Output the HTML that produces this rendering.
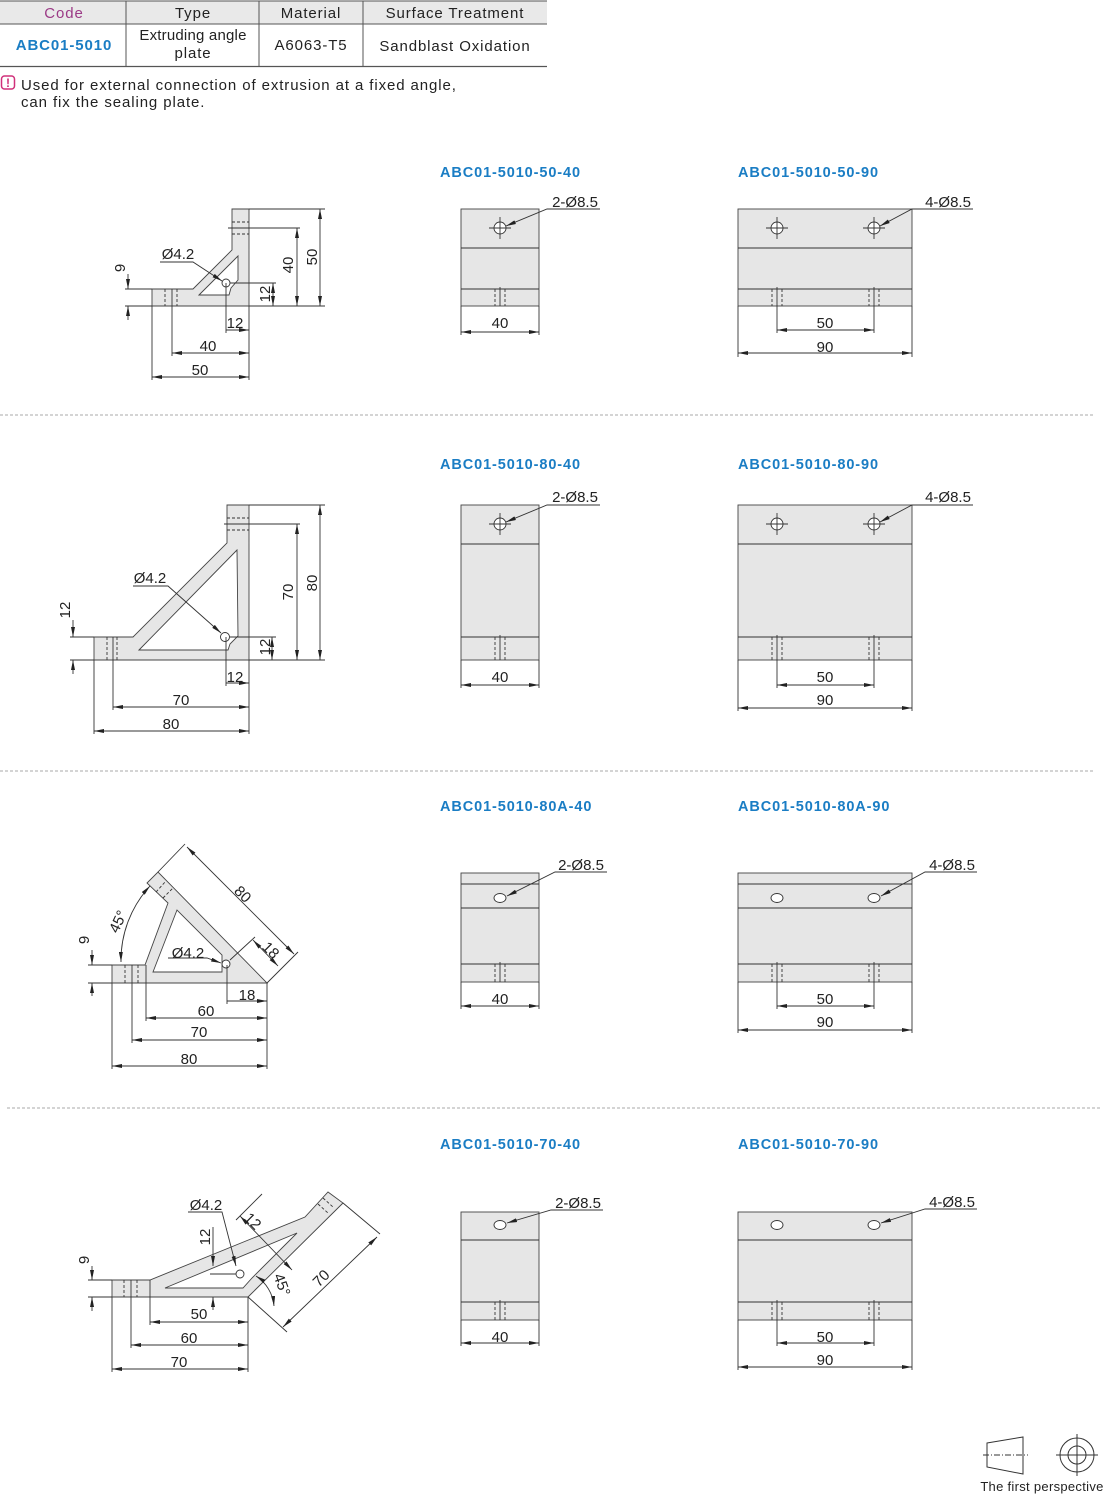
<!DOCTYPE html>
<html><head><meta charset="utf-8"><style>
body{margin:0;background:#fff;width:1110px;height:1497px;overflow:hidden;font-family:"Liberation Sans",sans-serif;}
svg{position:absolute;left:0;top:0}
</style></head><body>
<svg width="1110" height="1497" viewBox="0 0 1110 1497" xmlns="http://www.w3.org/2000/svg" font-family="Liberation Sans, sans-serif">
<defs>
<marker id="a" viewBox="0 0 10 4" refX="10" refY="2" markerWidth="10" markerHeight="4" markerUnits="userSpaceOnUse" orient="auto-start-reverse"><path d="M0,0L10,2L0,4z" fill="#222"/></marker>
</defs>
<!-- table -->
<rect x="0" y="1" width="547" height="23" fill="#e9e9e9"/>
<g stroke="#555" stroke-width="1">
<line x1="0" y1="1" x2="547" y2="1"/><line x1="0" y1="24" x2="547" y2="24"/><line x1="0" y1="66.5" x2="547" y2="66.5" stroke-width="1.3"/>
<line x1="126" y1="1" x2="126" y2="66"/><line x1="259" y1="1" x2="259" y2="66"/><line x1="363" y1="1" x2="363" y2="66"/>
</g>
<g font-size="15" fill="#222" text-anchor="middle" letter-spacing="0.9">
<text x="64" y="18" fill="#9b3a86">Code</text><text x="193" y="18">Type</text><text x="311" y="18">Material</text><text x="455" y="18">Surface Treatment</text>
<text x="64" y="50" fill="#1a7dc4" font-weight="bold">ABC01-5010</text>
<text x="193" y="40" letter-spacing="0.2">Extruding angle</text><text x="193" y="58">plate</text>
<text x="311" y="50">A6063-T5</text><text x="455" y="51">Sandblast Oxidation</text>
</g>
<rect x="1.5" y="76" width="13" height="13" rx="3" fill="none" stroke="#d0317a" stroke-width="1.5"/>
<text x="8" y="87" font-size="12" font-weight="bold" fill="#d0317a" text-anchor="middle">!</text>
<text x="21" y="90" font-size="15" fill="#222" letter-spacing="0.9">Used for external connection of extrusion at a fixed angle,</text>
<text x="21" y="107" font-size="15" fill="#222" letter-spacing="0.9">can fix the sealing plate.</text>

<!-- separators -->
<g stroke="#aaa" stroke-dasharray="3,2" stroke-width="1">
<line x1="0" y1="415" x2="1093" y2="415"/><line x1="0" y1="771" x2="1093" y2="771"/><line x1="7" y1="1108" x2="1100" y2="1108"/>
</g>

<!-- titles -->
<g font-size="14.5" font-weight="bold" fill="#1a7dc4" letter-spacing="0.9">
<text x="440" y="177">ABC01-5010-50-40</text><text x="738" y="177">ABC01-5010-50-90</text>
<text x="440" y="469">ABC01-5010-80-40</text><text x="738" y="469">ABC01-5010-80-90</text>
<text x="440" y="811">ABC01-5010-80A-40</text><text x="738" y="811">ABC01-5010-80A-90</text>
<text x="440" y="1149">ABC01-5010-70-40</text><text x="738" y="1149">ABC01-5010-70-90</text>
</g>

<g stroke="#333" stroke-width="0.9" fill="none">
<!-- ===== Row1 side ===== -->
<path d="M152,289 L193,289 L232,250 L232,209 L249,209 L249,306 L152,306 Z" fill="#e6e6e6" stroke="#444"/>
<path d="M199,295 L238,256 L238,280 L231,288 L229,295 Z" fill="#fff" stroke="#444"/>
<circle cx="226" cy="283" r="4" fill="#fff"/>
<g stroke-dasharray="3,2"><line x1="165" y1="289" x2="165" y2="306"/><line x1="177" y1="289" x2="177" y2="306"/><line x1="232" y1="222" x2="249" y2="222"/><line x1="232" y1="234" x2="249" y2="234"/></g>
<line x1="172" y1="289" x2="172" y2="356"/><line x1="228" y1="228" x2="300" y2="228"/>
<line x1="249" y1="209" x2="325" y2="209"/><line x1="249" y1="306" x2="325" y2="306"/>
<line x1="320" y1="209" x2="320" y2="306" marker-start="url(#a)" marker-end="url(#a)"/>
<line x1="297" y1="228" x2="297" y2="306" marker-start="url(#a)" marker-end="url(#a)"/>
<line x1="230" y1="283" x2="276" y2="283"/>
<line x1="273" y1="283" x2="273" y2="306" marker-start="url(#a)" marker-end="url(#a)"/>
<line x1="125" y1="289" x2="152" y2="289"/><line x1="125" y1="306" x2="152" y2="306"/>
<line x1="128" y1="274" x2="128" y2="289" marker-end="url(#a)"/><line x1="128" y1="320" x2="128" y2="306" marker-end="url(#a)"/>
<line x1="152" y1="306" x2="152" y2="380"/><line x1="249" y1="306" x2="249" y2="380"/><line x1="226" y1="283" x2="226" y2="333"/>
<line x1="226" y1="330" x2="249" y2="330" marker-end="url(#a)"/>
<line x1="172" y1="353" x2="249" y2="353" marker-start="url(#a)" marker-end="url(#a)"/>
<line x1="152" y1="377" x2="249" y2="377" marker-start="url(#a)" marker-end="url(#a)"/>
<polyline points="160,262 193,262 222,281" marker-end="url(#a)"/>

<!-- ===== Row2 side ===== -->
<path d="M94,637 L133,637 L227,543 L227,505 L249,505 L249,660 L94,660 Z" fill="#e6e6e6" stroke="#444"/>
<path d="M139,650 L237,550 L238,636 L230,644 L228,650 Z" fill="#fff" stroke="#444"/>
<circle cx="225" cy="637" r="4.5" fill="#fff"/>
<g stroke-dasharray="3,2"><line x1="107" y1="637" x2="107" y2="660"/><line x1="117" y1="637" x2="117" y2="660"/><line x1="227" y1="518" x2="249" y2="518"/><line x1="227" y1="530" x2="249" y2="530"/></g>
<line x1="113" y1="637" x2="113" y2="710"/><line x1="224" y1="524" x2="300" y2="524"/>
<line x1="249" y1="505" x2="325" y2="505"/><line x1="249" y1="660" x2="325" y2="660"/>
<line x1="320" y1="505" x2="320" y2="660" marker-start="url(#a)" marker-end="url(#a)"/>
<line x1="297" y1="524" x2="297" y2="660" marker-start="url(#a)" marker-end="url(#a)"/>
<line x1="230" y1="637" x2="276" y2="637"/>
<line x1="272" y1="637" x2="272" y2="660" marker-start="url(#a)" marker-end="url(#a)"/>
<line x1="70" y1="637" x2="94" y2="637"/><line x1="70" y1="660" x2="94" y2="660"/>
<line x1="73" y1="620" x2="73" y2="637" marker-end="url(#a)"/><line x1="73" y1="674" x2="73" y2="660" marker-end="url(#a)"/>
<line x1="94" y1="660" x2="94" y2="734"/><line x1="249" y1="660" x2="249" y2="734"/><line x1="226" y1="637" x2="226" y2="686"/>
<line x1="226" y1="683" x2="249" y2="683" marker-end="url(#a)"/>
<line x1="113" y1="707" x2="249" y2="707" marker-start="url(#a)" marker-end="url(#a)"/>
<line x1="94" y1="731" x2="249" y2="731" marker-start="url(#a)" marker-end="url(#a)"/>
<polyline points="133,586 168,586 221,633" marker-end="url(#a)"/>

<!-- ===== Row3 side ===== -->
<path d="M112,965 L145,965 L168,903 L147,883 L158,872 L267,983 L112,983 Z" fill="#e6e6e6" stroke="#444"/>
<path d="M153,972 L177,910 L222,955 L222,972 Z" fill="#fff" stroke="#444"/>
<circle cx="226" cy="964" r="4" fill="#fff"/>
<g stroke-dasharray="3,2"><line x1="125" y1="965" x2="125" y2="983"/><line x1="138" y1="965" x2="138" y2="983"/><line x1="156" y1="892" x2="166" y2="881"/><line x1="163" y1="898" x2="173" y2="888"/></g>
<line x1="132" y1="965" x2="132" y2="1043"/>
<line x1="158" y1="872" x2="185" y2="844"/><line x1="267" y1="983" x2="298" y2="952"/>
<line x1="187" y1="847" x2="294" y2="954" marker-start="url(#a)" marker-end="url(#a)"/>
<line x1="230" y1="960" x2="255" y2="937"/>
<line x1="253" y1="940" x2="278" y2="966" marker-start="url(#a)" marker-end="url(#a)"/>
<path d="M121,962 A110,110 0 0 1 150,886" marker-start="url(#a)" marker-end="url(#a)"/>
<line x1="88" y1="965" x2="112" y2="965"/><line x1="88" y1="983" x2="112" y2="983"/>
<line x1="92" y1="950" x2="92" y2="965" marker-end="url(#a)"/><line x1="92" y1="996" x2="92" y2="983" marker-end="url(#a)"/>
<line x1="112" y1="983" x2="112" y2="1069"/><line x1="267" y1="983" x2="267" y2="1069"/><line x1="146" y1="965" x2="146" y2="1021"/><line x1="227" y1="965" x2="227" y2="1004"/>
<line x1="227" y1="1001" x2="267" y2="1001" marker-end="url(#a)"/>
<line x1="146" y1="1018" x2="267" y2="1018" marker-start="url(#a)" marker-end="url(#a)"/>
<line x1="132" y1="1040" x2="267" y2="1040" marker-start="url(#a)" marker-end="url(#a)"/>
<line x1="112" y1="1066" x2="267" y2="1066" marker-start="url(#a)" marker-end="url(#a)"/>
<polyline points="168,958 207,958 221,963" marker-end="url(#a)"/>

<!-- ===== Row4 side ===== -->
<path d="M112,1280 L150,1280 L305,1217 L328,1192 L343,1203 L248,1297 L112,1297 Z" fill="#e6e6e6" stroke="#444"/>
<path d="M165,1288 L297,1233 L252,1278 L243,1288 Z" fill="#fff" stroke="#444"/>
<circle cx="240" cy="1274" r="4" fill="#fff"/>
<g stroke-dasharray="3,2"><line x1="124" y1="1280" x2="124" y2="1297"/><line x1="137" y1="1280" x2="137" y2="1297"/><line x1="318" y1="1204" x2="328" y2="1213"/><line x1="323" y1="1198" x2="333" y2="1207"/></g>
<line x1="131" y1="1280" x2="131" y2="1348"/><line x1="150" y1="1280" x2="150" y2="1325"/>
<line x1="213" y1="1227" x2="213" y2="1266" marker-end="url(#a)"/><line x1="213" y1="1310" x2="213" y2="1297" marker-end="url(#a)"/>
<line x1="210" y1="1274" x2="236" y2="1274"/>
<line x1="240" y1="1216" x2="292" y2="1270" marker-start="url(#a)" marker-end="url(#a)"/>
<line x1="236" y1="1220" x2="262" y2="1194"/>
<path d="M256,1276 A40,40 0 0 1 274,1306" marker-start="url(#a)" marker-end="url(#a)"/>
<line x1="248" y1="1297" x2="287" y2="1332"/><line x1="343" y1="1203" x2="380" y2="1234"/>
<line x1="377" y1="1237" x2="283" y2="1327" marker-start="url(#a)" marker-end="url(#a)"/>
<line x1="88" y1="1280" x2="112" y2="1280"/><line x1="88" y1="1297" x2="112" y2="1297"/>
<line x1="92" y1="1266" x2="92" y2="1280" marker-end="url(#a)"/><line x1="92" y1="1311" x2="92" y2="1297" marker-end="url(#a)"/>
<line x1="112" y1="1297" x2="112" y2="1372"/><line x1="248" y1="1297" x2="248" y2="1372"/>
<line x1="150" y1="1322" x2="248" y2="1322" marker-start="url(#a)" marker-end="url(#a)"/>
<line x1="131" y1="1345" x2="248" y2="1345" marker-start="url(#a)" marker-end="url(#a)"/>
<line x1="112" y1="1369" x2="248" y2="1369" marker-start="url(#a)" marker-end="url(#a)"/>
<polyline points="188,1212 222,1212 236,1266" marker-end="url(#a)"/>

<!-- ===== Front views ===== -->
<rect x="461" y="209" width="78" height="97" fill="#e6e6e6" stroke="#444"/>
<line x1="461" y1="248" x2="539" y2="248"/><line x1="461" y1="289" x2="539" y2="289"/>
<rect x="738" y="209" width="174" height="97" fill="#e6e6e6" stroke="#444"/>
<line x1="738" y1="248" x2="912" y2="248"/><line x1="738" y1="289" x2="912" y2="289"/>
<rect x="461" y="505" width="78" height="155" fill="#e6e6e6" stroke="#444"/>
<line x1="461" y1="544" x2="539" y2="544"/><line x1="461" y1="637" x2="539" y2="637"/>
<rect x="738" y="505" width="174" height="155" fill="#e6e6e6" stroke="#444"/>
<line x1="738" y1="544" x2="912" y2="544"/><line x1="738" y1="637" x2="912" y2="637"/>
<rect x="461" y="873" width="78" height="109" fill="#e6e6e6" stroke="#444"/>
<line x1="461" y1="884" x2="539" y2="884"/><line x1="461" y1="908" x2="539" y2="908"/><line x1="461" y1="964" x2="539" y2="964"/>
<rect x="738" y="873" width="174" height="109" fill="#e6e6e6" stroke="#444"/>
<line x1="738" y1="884" x2="912" y2="884"/><line x1="738" y1="908" x2="912" y2="908"/><line x1="738" y1="964" x2="912" y2="964"/>
<rect x="461" y="1212" width="78" height="108" fill="#e6e6e6" stroke="#444"/>
<line x1="461" y1="1240" x2="539" y2="1240"/><line x1="461" y1="1302" x2="539" y2="1302"/>
<rect x="738" y="1212" width="174" height="108" fill="#e6e6e6" stroke="#444"/>
<line x1="738" y1="1240" x2="912" y2="1240"/><line x1="738" y1="1302" x2="912" y2="1302"/>

<g>
<circle cx="500" cy="228" r="6" fill="#fff"/><line x1="489" y1="228" x2="511" y2="228"/><line x1="500" y1="217" x2="500" y2="239"/>
<circle cx="777" cy="228" r="6" fill="#fff"/><line x1="766" y1="228" x2="788" y2="228"/><line x1="777" y1="217" x2="777" y2="239"/>
<circle cx="874" cy="228" r="6" fill="#fff"/><line x1="863" y1="228" x2="885" y2="228"/><line x1="874" y1="217" x2="874" y2="239"/>
<circle cx="500" cy="524" r="6" fill="#fff"/><line x1="489" y1="524" x2="511" y2="524"/><line x1="500" y1="513" x2="500" y2="535"/>
<circle cx="777" cy="524" r="6" fill="#fff"/><line x1="766" y1="524" x2="788" y2="524"/><line x1="777" y1="513" x2="777" y2="535"/>
<circle cx="874" cy="524" r="6" fill="#fff"/><line x1="863" y1="524" x2="885" y2="524"/><line x1="874" y1="513" x2="874" y2="535"/>
<ellipse cx="500" cy="898" rx="6" ry="4.5" fill="#fff"/><ellipse cx="777" cy="898" rx="6" ry="4.5" fill="#fff"/><ellipse cx="874" cy="898" rx="6" ry="4.5" fill="#fff"/>
<ellipse cx="500" cy="1225" rx="6" ry="4.5" fill="#fff"/><ellipse cx="777" cy="1225" rx="6" ry="4.5" fill="#fff"/><ellipse cx="874" cy="1225" rx="6" ry="4.5" fill="#fff"/>
</g>
<g stroke-dasharray="3,2">
<line x1="495" y1="289" x2="495" y2="306"/><line x1="505" y1="289" x2="505" y2="306"/><line x1="772" y1="289" x2="772" y2="306"/><line x1="782" y1="289" x2="782" y2="306"/><line x1="869" y1="289" x2="869" y2="306"/><line x1="879" y1="289" x2="879" y2="306"/>
<line x1="495" y1="637" x2="495" y2="660"/><line x1="505" y1="637" x2="505" y2="660"/><line x1="772" y1="637" x2="772" y2="660"/><line x1="782" y1="637" x2="782" y2="660"/><line x1="869" y1="637" x2="869" y2="660"/><line x1="879" y1="637" x2="879" y2="660"/>
<line x1="495" y1="964" x2="495" y2="982"/><line x1="505" y1="964" x2="505" y2="982"/><line x1="772" y1="964" x2="772" y2="982"/><line x1="782" y1="964" x2="782" y2="982"/><line x1="869" y1="964" x2="869" y2="982"/><line x1="879" y1="964" x2="879" y2="982"/>
<line x1="495" y1="1302" x2="495" y2="1320"/><line x1="505" y1="1302" x2="505" y2="1320"/><line x1="772" y1="1302" x2="772" y2="1320"/><line x1="782" y1="1302" x2="782" y2="1320"/><line x1="869" y1="1302" x2="869" y2="1320"/><line x1="879" y1="1302" x2="879" y2="1320"/>
</g>
<line x1="500" y1="287" x2="500" y2="306"/><line x1="500" y1="635" x2="500" y2="660"/><line x1="500" y1="962" x2="500" y2="982"/><line x1="500" y1="1300" x2="500" y2="1320"/>
<line x1="777" y1="287" x2="777" y2="333"/><line x1="874" y1="287" x2="874" y2="333"/>
<line x1="777" y1="635" x2="777" y2="688"/><line x1="874" y1="635" x2="874" y2="688"/>
<line x1="777" y1="962" x2="777" y2="1009"/><line x1="874" y1="962" x2="874" y2="1009"/>
<line x1="777" y1="1300" x2="777" y2="1346"/><line x1="874" y1="1300" x2="874" y2="1346"/>
<line x1="461" y1="306" x2="461" y2="335"/><line x1="539" y1="306" x2="539" y2="335"/>
<line x1="461" y1="332" x2="539" y2="332" marker-start="url(#a)" marker-end="url(#a)"/>
<line x1="738" y1="306" x2="738" y2="357"/><line x1="912" y1="306" x2="912" y2="357"/>
<line x1="777" y1="330" x2="874" y2="330" marker-start="url(#a)" marker-end="url(#a)"/>
<line x1="738" y1="353" x2="912" y2="353" marker-start="url(#a)" marker-end="url(#a)"/>
<line x1="461" y1="660" x2="461" y2="688"/><line x1="539" y1="660" x2="539" y2="688"/>
<line x1="461" y1="685" x2="539" y2="685" marker-start="url(#a)" marker-end="url(#a)"/>
<line x1="738" y1="660" x2="738" y2="711"/><line x1="912" y1="660" x2="912" y2="711"/>
<line x1="777" y1="685" x2="874" y2="685" marker-start="url(#a)" marker-end="url(#a)"/>
<line x1="738" y1="708" x2="912" y2="708" marker-start="url(#a)" marker-end="url(#a)"/>
<line x1="461" y1="982" x2="461" y2="1009"/><line x1="539" y1="982" x2="539" y2="1009"/>
<line x1="461" y1="1006" x2="539" y2="1006" marker-start="url(#a)" marker-end="url(#a)"/>
<line x1="738" y1="982" x2="738" y2="1033"/><line x1="912" y1="982" x2="912" y2="1033"/>
<line x1="777" y1="1006" x2="874" y2="1006" marker-start="url(#a)" marker-end="url(#a)"/>
<line x1="738" y1="1030" x2="912" y2="1030" marker-start="url(#a)" marker-end="url(#a)"/>
<line x1="461" y1="1320" x2="461" y2="1346"/><line x1="539" y1="1320" x2="539" y2="1346"/>
<line x1="461" y1="1343" x2="539" y2="1343" marker-start="url(#a)" marker-end="url(#a)"/>
<line x1="738" y1="1320" x2="738" y2="1370"/><line x1="912" y1="1320" x2="912" y2="1370"/>
<line x1="777" y1="1343" x2="874" y2="1343" marker-start="url(#a)" marker-end="url(#a)"/>
<line x1="738" y1="1367" x2="912" y2="1367" marker-start="url(#a)" marker-end="url(#a)"/>
<polyline points="600,209 547,209 506,226" marker-end="url(#a)"/>
<polyline points="973,209 912,209 880,226" marker-end="url(#a)"/>
<polyline points="600,505 547,505 506,522" marker-end="url(#a)"/>
<polyline points="973,505 912,505 880,522" marker-end="url(#a)"/>
<polyline points="607,872 555,872 507,896" marker-end="url(#a)"/>
<polyline points="977,872 925,872 881,896" marker-end="url(#a)"/>
<polyline points="603,1210 551,1210 507,1223" marker-end="url(#a)"/>
<polyline points="977,1209 925,1209 881,1223" marker-end="url(#a)"/>
</g>

<g font-size="15" fill="#222" text-anchor="middle">
<text x="178" y="259">Ø4.2</text>
<text x="313" y="257" transform="rotate(-90 313 257)" dominant-baseline="middle">50</text>
<text x="289" y="265" transform="rotate(-90 289 265)" dominant-baseline="middle">40</text>
<text x="266" y="294" transform="rotate(-90 266 294)" dominant-baseline="middle">12</text>
<text x="121" y="268" transform="rotate(-90 121 268)" dominant-baseline="middle">9</text>
<text x="235" y="328">12</text><text x="208" y="351">40</text><text x="200" y="375">50</text>
<text x="575" y="207">2-Ø8.5</text><text x="948" y="207">4-Ø8.5</text>
<text x="500" y="328">40</text><text x="825" y="328">50</text><text x="825" y="352">90</text>

<text x="150" y="583">Ø4.2</text>
<text x="313" y="583" transform="rotate(-90 313 583)" dominant-baseline="middle">80</text>
<text x="289" y="592" transform="rotate(-90 289 592)" dominant-baseline="middle">70</text>
<text x="266" y="647" transform="rotate(-90 266 647)" dominant-baseline="middle">12</text>
<text x="66" y="610" transform="rotate(-90 66 610)" dominant-baseline="middle">12</text>
<text x="235" y="682">12</text><text x="181" y="705">70</text><text x="171" y="729">80</text>
<text x="575" y="502">2-Ø8.5</text><text x="948" y="502">4-Ø8.5</text>
<text x="500" y="682">40</text><text x="825" y="682">50</text><text x="825" y="705">90</text>

<text x="188" y="958">Ø4.2</text>
<text x="242" y="895" transform="rotate(45 242 895)" dominant-baseline="middle">80</text>
<text x="270" y="951" transform="rotate(45 270 951)" dominant-baseline="middle">18</text>
<text x="119" y="922" transform="rotate(-65 119 922)" dominant-baseline="middle">45°</text>
<text x="85" y="940" transform="rotate(-90 85 940)" dominant-baseline="middle">9</text>
<text x="247" y="1000">18</text><text x="206" y="1016">60</text><text x="199" y="1037">70</text><text x="189" y="1064">80</text>
<text x="581" y="870">2-Ø8.5</text><text x="952" y="870">4-Ø8.5</text>
<text x="500" y="1004">40</text><text x="825" y="1004">50</text><text x="825" y="1027">90</text>

<text x="206" y="1210">Ø4.2</text>
<text x="206" y="1237" transform="rotate(-90 206 1237)" dominant-baseline="middle">12</text>
<text x="252" y="1222" transform="rotate(45 252 1222)" dominant-baseline="middle">12</text>
<text x="281" y="1285" transform="rotate(70 281 1285)" dominant-baseline="middle">45°</text>
<text x="322" y="1279" transform="rotate(-45 322 1279)" dominant-baseline="middle">70</text>
<text x="85" y="1260" transform="rotate(-90 85 1260)" dominant-baseline="middle">9</text>
<text x="199" y="1319">50</text><text x="189" y="1343">60</text><text x="179" y="1367">70</text>
<text x="578" y="1208">2-Ø8.5</text><text x="952" y="1207">4-Ø8.5</text>
<text x="500" y="1342">40</text><text x="825" y="1342">50</text><text x="825" y="1365">90</text>
</g>

<g stroke="#333" stroke-width="1" fill="none">
<path d="M987,1443 L1023,1437 L1023,1474 L987,1467 Z"/>
<line x1="983" y1="1455" x2="1028" y2="1455" stroke-dasharray="6,2,1,2"/>
<circle cx="1077" cy="1455" r="17"/><circle cx="1077" cy="1455" r="9"/>
<line x1="1056" y1="1455" x2="1098" y2="1455"/><line x1="1077" y1="1434" x2="1077" y2="1476"/>
</g>
<text x="1042" y="1491" font-size="13" fill="#222" text-anchor="middle" letter-spacing="0.3">The first perspective</text>
</svg>
</body></html>
